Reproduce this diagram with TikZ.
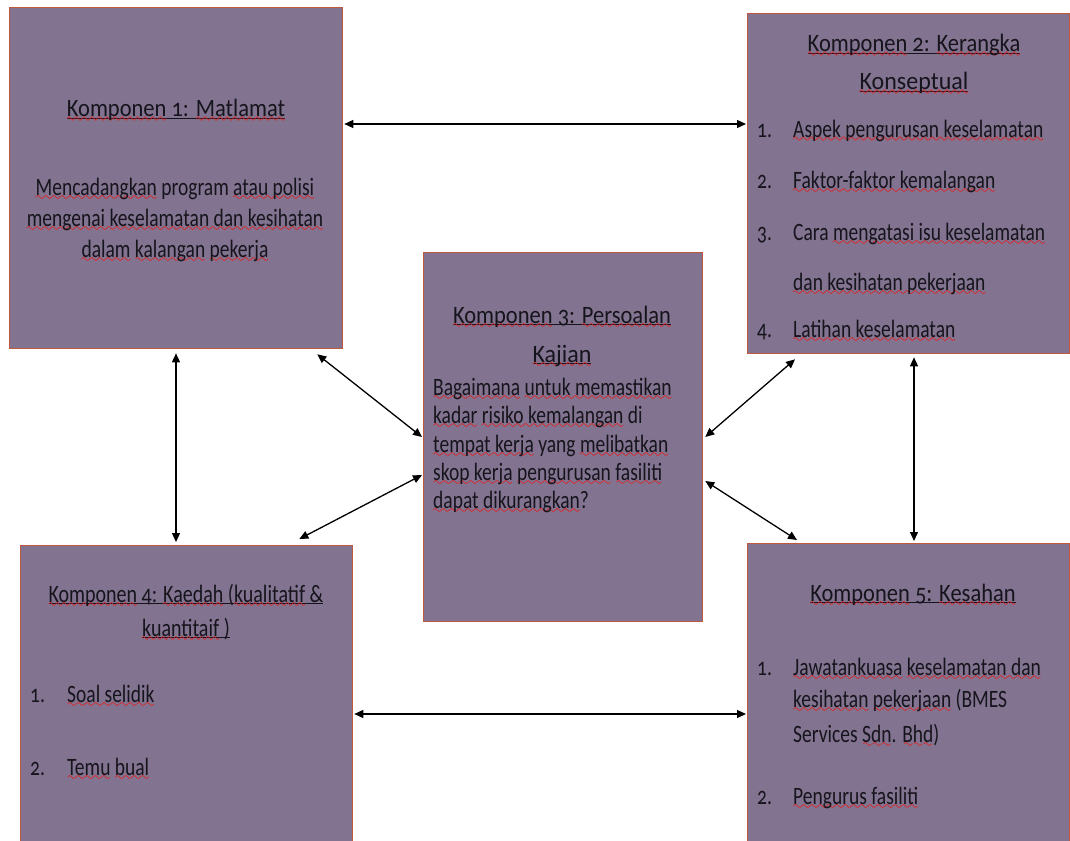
\documentclass[tikz,border=0pt]{standalone}
\usepackage{fontspec}
\setmainfont{Carlito}[Numbers=OldStyle, FakeStretch=0.78]
\newfontfamily\ttlfont{Carlito}[Numbers=OldStyle]
\usetikzlibrary{arrows.meta,calc}
\definecolor{boxfill}{RGB}{130,116,144}
\definecolor{boxline}{RGB}{192,88,62}
\definecolor{txt}{RGB}{22,20,28}
\definecolor{squig}{RGB}{232,28,28}
\font\sqfont=lasy10 scaled 1200
\newsavebox\sqbox
\newsavebox\ulbox
\newcommand\wavebox{\hbox to\wd\sqbox{\xleaders\hbox{\sqfont\char58}\hfil}}
\newcommand\sq[1]{\sbox\sqbox{#1}\rlap{\color{squig}\raisebox{-5pt}[0pt][0pt]{\wavebox}}\rlap{\color{squig}\raisebox{-5.6pt}[0pt][0pt]{\wavebox}}\usebox\sqbox}
\newcommand\ul[1]{\sbox\ulbox{#1}\rlap{\color{txt}\rule[-2.2pt]{\wd\ulbox}{1.1pt}}\usebox\ulbox}
\newcommand\ttl[2]{\scalebox{#1}[1]{\ttlfont #2}}
\tikzset{
  box/.style={draw=boxline, line width=1.3pt, fill=boxfill, anchor=north west, inner sep=0pt},
  lbl/.style={font=\fontsize{25}{30}\selectfont, text=txt, inner sep=0pt},
  ctr/.style={lbl, anchor=base},
  lft/.style={lbl, anchor=base west},
  arr/.style={{Triangle[length=9pt,width=8pt]}-{Triangle[length=9pt,width=8pt]}, line width=1.3pt, black}
}
\begin{document}
\begin{tikzpicture}[x=1pt,y=-1pt]
\useasboundingbox[fill=white] (0,0) rectangle (1070,840);
% boxes
\node[box, minimum width=333pt, minimum height=341pt] (b1) at (9,7) {};
\node[box, minimum width=322pt, minimum height=340pt] (b2) at (747,13) {};
\node[box, minimum width=279pt, minimum height=369pt] (b3) at (423,252) {};
\node[box, minimum width=332pt, minimum height=310pt] (b4) at (20,545) {};
\node[box, minimum width=322pt, minimum height=310pt] (b5) at (747,543) {};
% box 1
\node[ctr] (t1) at (176,117) {\ttl{0.9}{\ul{\sq{Komponen} 1: \sq{Matlamat}}}};
\node[ctr] (t1a) at (175,195) {\sq{Mencadangkan} program \sq{atau polisi}};
\node[ctr] (t1b) at (175,226) {\sq{mengenai keselamatan dan kesihatan}};
\node[ctr] (t1c) at (175,257) {\sq{dalam} \sq{kalangan} \sq{pekerja}};
% box 2
\node[ctr] (t2) at (914,52) {\ttl{0.9}{\ul{\sq{Komponen} 2: \sq{Kerangka}}}};
\node[ctr] (t2b) at (914,90) {\ttl{0.96}{\ul{\sq{Konseptual}}}};
\node[lft] (n21) at (757,137) {1.};
\node[lft] (i21) at (793,137) {\sq{Aspek pengurusan keselamatan}};
\node[lft] (n22) at (757,188) {2.};
\node[lft] (i22) at (793,188) {\sq{Faktor-faktor kemalangan}};
\node[lft] (n23) at (757,240) {3.};
\node[lft] (i23) at (793,240) {Cara \sq{mengatasi isu keselamatan}};
\node[lft] (i23b) at (793,290) {\sq{dan kesihatan pekerjaan}};
\node[lft] (n24) at (757,337) {4.};
\node[lft] (i24) at (793,337) {\sq{Latihan keselamatan}};
% box 3
\node[ctr] (t3) at (562,323) {\ttl{0.9}{\ul{\sq{Komponen} 3: \sq{Persoalan}}}};
\node[ctr] (t3b) at (562,362) {\ttl{0.96}{\ul{\sq{Kajian}}}};
\node[lft] (q1) at (433,395) {\sq{Bagaimana} \sq{untuk memastikan}};
\node[lft] (q2) at (433,423) {\sq{kadar} \sq{risiko kemalangan} di};
\node[lft] (q3) at (433,452) {\sq{tempat kerja} yang \sq{melibatkan}};
\node[lft] (q4) at (433,480) {\sq{skop kerja} \sq{pengurusan} \sq{fasiliti}};
\node[lft] (q5) at (433,508) {\sq{dapat dikurangkan}?};
% box 4
\node[ctr] (t4) at (186,602) {\ttl{0.8}{\ul{\sq{Komponen} 4: \sq{Kaedah} (\sq{kualitatif} \&}}};
\node[ctr] (t4b) at (186,636) {\ttl{0.8}{\ul{\sq{kuantitaif} )}}};
\node[lft] (n41) at (30,702) {1.};
\node[lft] (i41) at (67,702) {\sq{Soal selidik}};
\node[lft] (n42) at (30,775) {2.};
\node[lft] (i42) at (67,775) {\sq{Temu} \sq{bual}};
% box 5
\node[ctr] (t5) at (913,601) {\ttl{0.9}{\ul{\sq{Komponen} 5: \sq{Kesahan}}}};
\node[lft] (n51) at (757,675) {1.};
\node[lft] (i51) at (793,675) {\sq{Jawatankuasa} \sq{keselamatan dan}};
\node[lft] (i51b) at (793,707) {\sq{kesihatan} \sq{pekerjaan} (BMES};
\node[lft] (i51c) at (793,742) {Services \sq{Sdn}. \sq{Bhd})};
\node[lft] (n52) at (757,804) {2.};
\node[lft] (i52) at (793,804) {\sq{Pengurus fasiliti}};
% connectors
\draw[arr] ($(b1.north east)+(1,117)$) -- ($(b2.north west)+(-1,111)$);
\draw[arr] ($(b4.north east)+(1,169)$) -- ($(b5.north west)+(-1,171)$);
\draw[arr] ($(b1.south west)+(167,4)$) -- ($(b4.north west)+(156,-3)$);
\draw[arr] ($(b1.south east)+(-26,5)$) -- ($(b3.north west)+(-1,185)$);
\draw[arr] ($(b4.north east)+(-54,-6)$) -- ($(b3.north west)+(-1,223)$);
\draw[arr] ($(b3.north east)+(2,185)$) -- ($(b2.south west)+(48,5)$);
\draw[arr] ($(b3.north east)+(2,229)$) -- ($(b5.north west)+(50,-3)$);
\draw[arr] ($(b2.south west)+(167,3)$) -- ($(b5.north west)+(167,-2)$);
\end{tikzpicture}
\end{document}
